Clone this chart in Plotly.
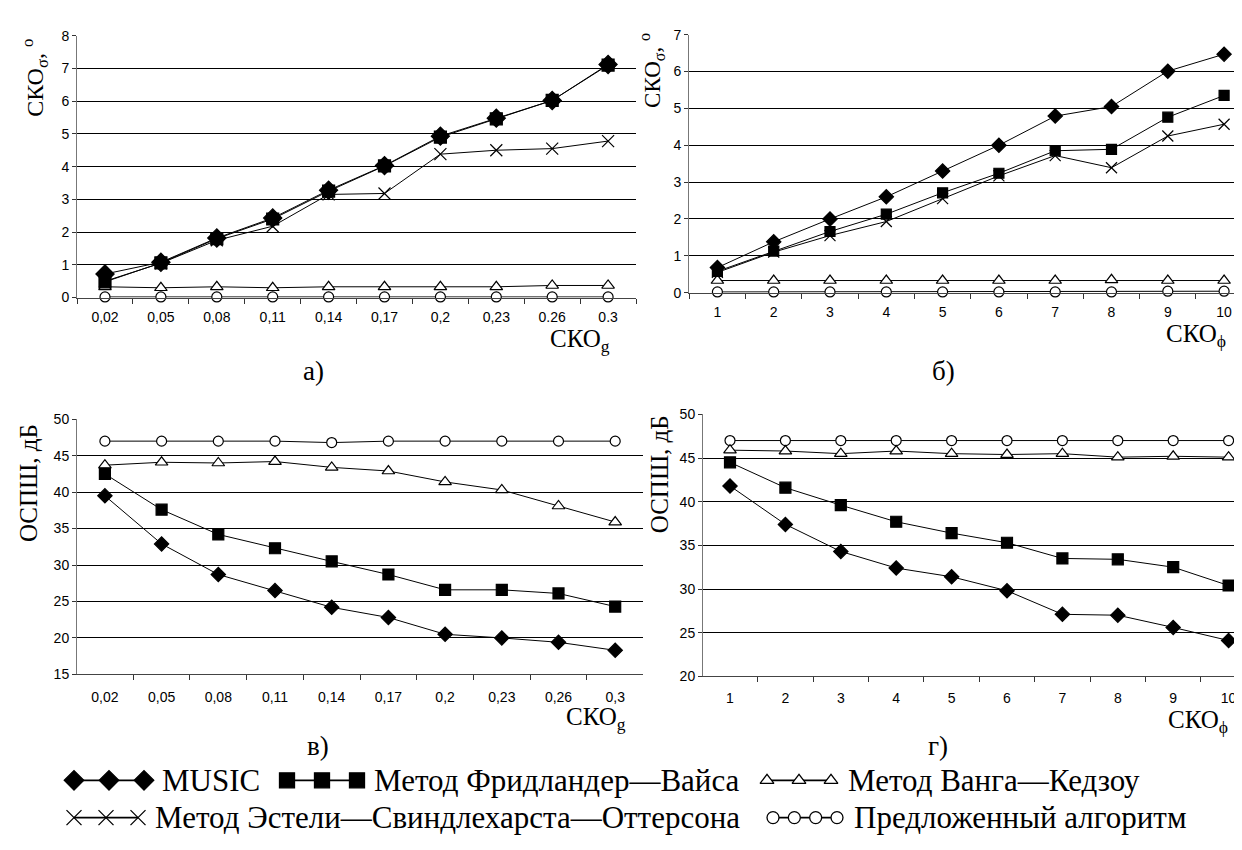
import plotly.graph_objects as go

W, H = 1242, 850

# ---------------- data ----------------
cats_a = ["0,02", "0,05", "0,08", "0,11", "0,14", "0,17", "0,2", "0,23", "0.26", "0.3"]
cats_c = ["0,02", "0,05", "0,08", "0,11", "0,14", "0,17", "0,2", "0,23", "0,26", "0,3"]
cats_phi = ["1", "2", "3", "4", "5", "6", "7", "8", "9", "10"]

# panel а) СКО_σ vs СКО_g
a_music = [0.72, 1.08, 1.82, 2.43, 3.28, 4.03, 4.93, 5.48, 6.02, 7.12]
a_fw = [0.48, 1.06, 1.80, 2.40, 3.25, 4.02, 4.90, 5.46, 6.02, 7.10]
a_wk = [0.33, 0.30, 0.33, 0.30, 0.33, 0.33, 0.33, 0.33, 0.37, 0.37]
a_eso = [0.50, 1.05, 1.75, 2.18, 3.15, 3.18, 4.38, 4.50, 4.55, 4.78]
a_prop = [0.02, 0.02, 0.02, 0.02, 0.02, 0.02, 0.02, 0.02, 0.02, 0.02]

# panel б) СКО_σ vs СКО_φ
b_music = [0.68, 1.38, 2.00, 2.60, 3.30, 4.00, 4.79, 5.05, 6.01, 6.47]
b_fw = [0.58, 1.13, 1.66, 2.13, 2.71, 3.24, 3.85, 3.89, 4.76, 5.35]
b_wk = [0.33, 0.33, 0.33, 0.33, 0.33, 0.33, 0.33, 0.35, 0.33, 0.33]
b_eso = [0.55, 1.10, 1.55, 1.93, 2.55, 3.17, 3.72, 3.39, 4.25, 4.57]
b_prop = [0.02, 0.02, 0.02, 0.02, 0.02, 0.02, 0.02, 0.02, 0.04, 0.04]

# panel в) ОСПШ vs СКО_g
c_music = [39.5, 32.9, 28.7, 26.5, 24.2, 22.8, 20.5, 20.0, 19.4, 18.3]
c_fw = [42.5, 37.6, 34.2, 32.3, 30.5, 28.7, 26.6, 26.6, 26.1, 24.3]
c_wk = [43.7, 44.1, 44.0, 44.2, 43.4, 42.9, 41.4, 40.3, 38.1, 35.9]
c_prop = [47.0, 47.0, 47.0, 47.0, 46.8, 47.0, 47.0, 47.0, 47.0, 47.0]

# panel г) ОСПШ vs СКО_φ
d_music = [41.8, 37.4, 34.3, 32.4, 31.4, 29.8, 27.1, 27.0, 25.6, 24.1]
d_fw = [44.5, 41.6, 39.6, 37.7, 36.4, 35.3, 33.5, 33.4, 32.5, 30.4]
d_wk = [45.9, 45.8, 45.5, 45.8, 45.5, 45.4, 45.5, 45.1, 45.2, 45.1]
d_prop = [47.0, 47.0, 47.0, 47.0, 47.0, 47.0, 47.0, 47.0, 47.0, 47.0]

names = ["MUSIC", "Метод Фридландер—Вайса", "Метод Ванга—Кедзоу",
         "Метод Эстели—Свиндлехарста—Оттерсона", "Предложенный алгоритм"]

# ---------------- styles ----------------
SERIF = "Liberation Serif, Times New Roman, serif"
SANS = "Liberation Sans, Arial, sans-serif"
style = {
    "MUSIC": dict(symbol="diamond", size=11),
    "FW": dict(symbol="square", size=10),
    "WK": dict(symbol="triangle-up", size=11, fill="white"),
    "ESO": dict(symbol="x-thin-open", size=11),
    "PROP": dict(symbol="circle", size=10, fill="white"),
}

fig = go.Figure()

def add(cats, y, key, xa, ya, size=None):
    s = style[key]
    fig.add_trace(go.Scatter(
        x=list(range(len(cats))), y=y, mode="lines+markers", xaxis=xa, yaxis=ya,
        showlegend=False, name=key,
        line=dict(color="black", width=1),
        marker=dict(symbol=s["symbol"], size=size or s["size"], color=s.get("fill", "black"),
                    line=dict(color="black", width=1.2)),
        cliponaxis=False, hoverinfo="skip"))

add(cats_a, a_prop, "PROP", "x", "y")
add(cats_a, a_wk, "WK", "x", "y")
add(cats_a, a_eso, "ESO", "x", "y", 12)
add(cats_a, a_fw, "FW", "x", "y", 12)
add(cats_a, a_music, "MUSIC", "x", "y", 14)

add(cats_phi, b_prop, "PROP", "x2", "y2")
add(cats_phi, b_wk, "WK", "x2", "y2")
add(cats_phi, b_eso, "ESO", "x2", "y2")
add(cats_phi, b_fw, "FW", "x2", "y2")
add(cats_phi, b_music, "MUSIC", "x2", "y2")

add(cats_c, c_prop, "PROP", "x3", "y3")
add(cats_c, c_wk, "WK", "x3", "y3")
add(cats_c, c_fw, "FW", "x3", "y3", 11)
add(cats_c, c_music, "MUSIC", "x3", "y3")

add(cats_phi, d_prop, "PROP", "x4", "y4")
add(cats_phi, d_wk, "WK", "x4", "y4")
add(cats_phi, d_fw, "FW", "x4", "y4", 11)
add(cats_phi, d_music, "MUSIC", "x4", "y4")

def px_x(p):
    return p / W

def px_y(p):
    return 1 - p / H

def xaxis(dom, cat0, step, cats, anchor, standoff):
    lo = -(cat0 - dom[0]) / step
    hi = (dom[1] - cat0) / step
    n = len(cats)
    return dict(domain=[px_x(dom[0]), px_x(dom[1])], range=[lo, hi],
                anchor=anchor, showgrid=False, zeroline=False, showline=True,
                linecolor="#444", linewidth=1,
                tickmode="array", tickvals=list(range(n)), ticktext=cats,
                ticks="", ticklabelstandoff=standoff,
                minor=dict(tickmode="array", tickvals=[i - 0.5 for i in range(n + 1)],
                           ticks="outside", ticklen=5, tickcolor="#333", showgrid=False),
                tickfont=dict(family=SANS, size=14, color="black"), fixedrange=True)

def yaxis(dom, rng, dtick, anchor):
    return dict(domain=[px_y(dom[1]), px_y(dom[0])], range=rng, dtick=dtick,
                anchor=anchor, showgrid=True, gridcolor="black", gridwidth=1,
                zeroline=False, showline=True, linecolor="#777", linewidth=1,
                ticks="outside", ticklen=4, tickcolor="#333",
                tickfont=dict(family=SANS, size=14, color="black"), fixedrange=True)

fig.update_layout(
    width=W, height=H, margin=dict(l=0, r=0, t=0, b=0),
    paper_bgcolor="white", plot_bgcolor="rgba(0,0,0,0)",
    font=dict(family=SERIF),
    xaxis=xaxis((69, 628), 97, 55.9, cats_a, "y", 7),
    yaxis=yaxis((20, 287), [0, 8], 1, "x"),
    xaxis2=xaxis((681, 1242), 709.4, 56.3, cats_phi, "y2", 7),
    yaxis2=yaxis((19, 282), [0, 7], 1, "x2"),
    xaxis3=xaxis((69, 635), 96.9, 56.7, cats_c, "y3", 10),
    yaxis3=yaxis((411, 671), [15, 50], 5, "x3"),
    xaxis4=xaxis((695, 1242), 722, 55.4, cats_phi, "y4", 9),
    yaxis4=yaxis((406, 673), [20, 50], 5, "x4"),
    xaxis5=dict(domain=[0, 1], range=[0, W], visible=False, fixedrange=True, anchor="y5"),
    yaxis5=dict(domain=[0, 1], range=[H, 0], visible=False, fixedrange=True, anchor="x5"),
)

ann = []

def text(x, y, s, size, angle=0, xanchor="center", font=SERIF):
    ann.append(dict(x=px_x(x), y=px_y(y), xref="paper", yref="paper", text=s,
                    showarrow=False, textangle=angle, xanchor=xanchor, yanchor="middle",
                    font=dict(family=font, size=size, color="black")))

# axis titles
text(27, 63, "СКО<sub>σ</sub>, <sup>o</sup>", 24, -90)
text(644, 56, "СКО<sub>σ</sub>, <sup>o</sup>", 23, -90)
text(20, 476, "ОСПШ, дБ", 25, -90)
text(651, 467, "ОСПШ, дБ", 25, -90)
text(572, 331, "СКО<sub>g</sub>", 25)
text(1188, 326, "СКО<sub>ϕ</sub>", 25)
text(588, 716, "СКО<sub>g</sub>", 25)
text(1190, 719, "СКО<sub>ϕ</sub>", 25)

# panel letters
text(305, 362, "а)", 27)
text(935, 362, "б)", 27)
text(310, 744, "в)", 27)
text(930, 744, "г)", 27)

# legend (manual layout): key, sample-left, sample-width, row-y, text-left
label_of = {"MUSIC": names[0], "FW": names[1], "WK": names[2], "ESO": names[3], "PROP": names[4]}
leg_items = [("MUSIC", 59, 84, 779, 152), ("FW", 272, 84, 779, 364),
             ("WK", 752, 78, 779, 838),
             ("ESO", 59, 78, 817, 145), ("PROP", 758, 78, 817, 844)]
for key, x0, span, y0, tx in leg_items:
    s = style[key]
    n = 4 if key == "PROP" else 3
    xs = [x0 + 7 + i * (span - 14) / (n - 1) for i in range(n)]
    fig.add_trace(go.Scatter(
        x=xs, y=[y0] * n, xaxis="x5", yaxis="y5", mode="lines+markers",
        showlegend=False, hoverinfo="skip", cliponaxis=False,
        line=dict(color="black", width=1.6),
        marker=dict(symbol=s["symbol"], size=15 if key in ("MUSIC", "FW", "ESO") else 12,
                    color=s.get("fill", "black"), line=dict(color="black", width=1.3))))
    text(tx, y0, label_of[key], 31, xanchor="left")

fig.update_layout(annotations=ann)
fig.write_html("out.html")
